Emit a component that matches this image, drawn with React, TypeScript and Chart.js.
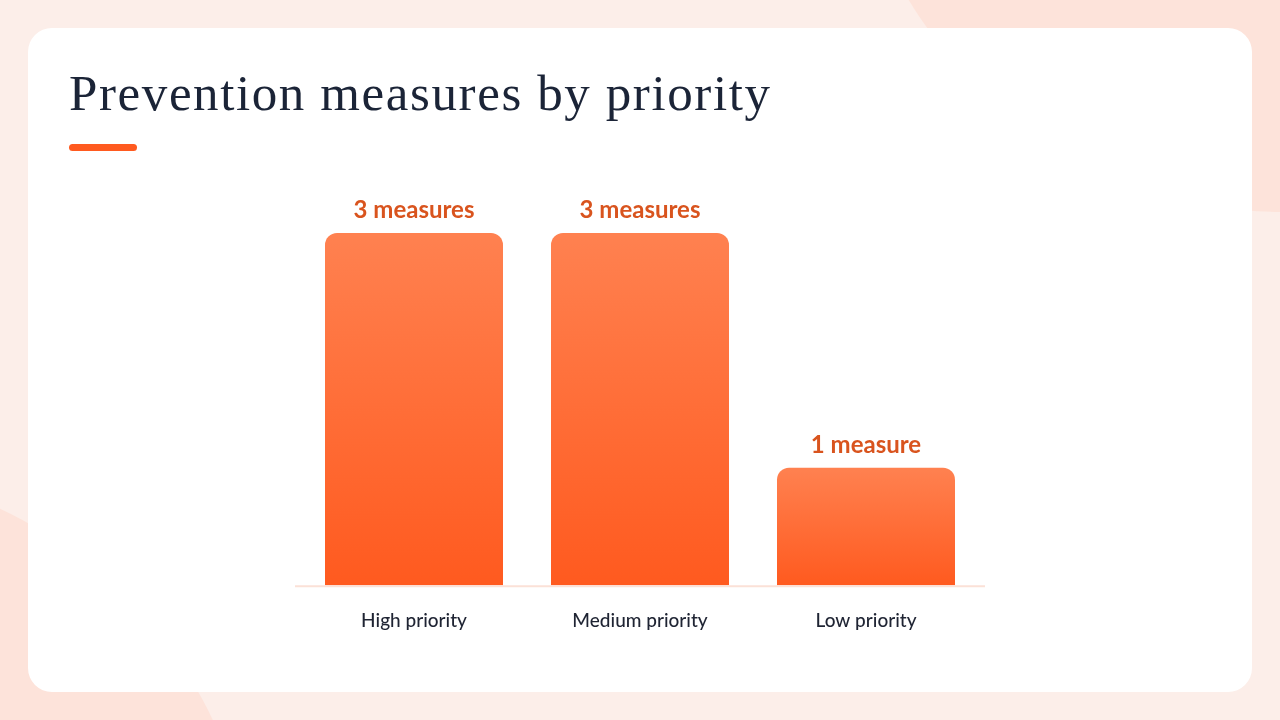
import { useEffect, useRef } from "react";
import Chart from "chart.js/auto";

const CATEGORIES = ["High priority", "Medium priority", "Low priority"];
const MEASURES = [3, 3, 1];
const Y_MAX = 3;

const LABEL_FONT = "Lato, 'Noto Sans', sans-serif";

// value labels above bars + a baseline a little wider than the plot
const valueLabels = {
  id: "valueLabels",
  beforeDatasetsDraw(chart: Chart) {
    const { ctx, chartArea } = chart;
    ctx.save();
    ctx.strokeStyle = "#FBE1D7";
    ctx.lineWidth = 2;
    ctx.beginPath();
    ctx.moveTo(chartArea.left - 6, chartArea.bottom + 1);
    ctx.lineTo(chartArea.right + 6, chartArea.bottom + 1);
    ctx.stroke();
    ctx.restore();
  },
  afterDatasetsDraw(chart: Chart) {
    const { ctx } = chart;
    const meta = chart.getDatasetMeta(0);
    ctx.save();
    ctx.font = `700 24px ${LABEL_FONT}`;
    ctx.fillStyle = "#D9541E";
    ctx.textAlign = "center";
    ctx.textBaseline = "alphabetic";
    meta.data.forEach((bar: any, i: number) => {
      const v = MEASURES[i];
      ctx.fillText(`${v} measure${v === 1 ? "" : "s"}`, bar.x, bar.y - 15);
    });
    ctx.restore();
  },
};

function PriorityChart() {
  const canvasRef = useRef<HTMLCanvasElement>(null);
  const chartRef = useRef<Chart | null>(null);

  useEffect(() => {
    if (!canvasRef.current) return;
    if (chartRef.current) chartRef.current.destroy();

    chartRef.current = new Chart(canvasRef.current, {
      type: "bar",
      data: {
        labels: CATEGORIES,
        datasets: [{
          data: MEASURES,
          backgroundColor: (c: any) => {
            const chart = c.chart;
            const y = chart.scales?.y;
            if (!chart.chartArea || !y || c.dataIndex == null) return "#FF6A32";
            const top = y.getPixelForValue(MEASURES[c.dataIndex]);
            const bottom = y.getPixelForValue(0);
            if (!isFinite(top) || !isFinite(bottom)) return "#FF6A32";
            const g = chart.ctx.createLinearGradient(0, top, 0, bottom);
            g.addColorStop(0, "#FF8150");
            g.addColorStop(1, "#FF5A1F");
            return g;
          },
          borderWidth: 0,
          borderRadius: { topLeft: 12, topRight: 12, bottomLeft: 0, bottomRight: 0 },
          borderSkipped: "start",
          categoryPercentage: 1,
          barPercentage: 178 / 226,
        }],
      },
      options: {
        animation: false,
        responsive: true,
        maintainAspectRatio: false,
        layout: { padding: { top: 53, bottom: 0, left: 12, right: 12 } },
        plugins: {
          legend: { display: false },
          tooltip: { enabled: false },
        },
        scales: {
          y: { display: false, min: 0, max: Y_MAX },
          x: {
            grid: { display: false },
            border: { display: false },
            ticks: {
              color: "#1F2433",
              font: { family: LABEL_FONT, size: 19, weight: 500 },
              padding: 16,
            },
          },
        },
      },
      plugins: [valueLabels],
    });

    return () => { chartRef.current?.destroy(); };
  }, []);

  return <canvas ref={canvasRef} />;
}

export default function App() {
  useEffect(() => {
    document.body.style.margin = "0";
  }, []);

  return (
    <div style={{ position: "relative", width: 1280, height: 720, overflow: "hidden", background: "#FCEEE9" }}>
      {/* background blobs */}
      <div style={{ position: "absolute", left: 845, top: -668, width: 880, height: 880, borderRadius: "50%", background: "#FDE3DA" }} />
      <div style={{ position: "absolute", left: -625, top: 468, width: 880, height: 880, borderRadius: "50%", background: "#FDE3DA" }} />

      {/* card */}
      <div style={{ position: "absolute", left: 28, top: 28, width: 1224, height: 664, background: "#FFFFFF", borderRadius: 24 }} />

      <div style={{
        position: "absolute", left: 69, top: 61, fontFamily: "'Liberation Serif', 'DejaVu Serif', serif",
        fontSize: 51, lineHeight: "64px", letterSpacing: 1.6, color: "#1B2437", whiteSpace: "nowrap",
      }}>
        Prevention measures by priority
      </div>
      <div style={{ position: "absolute", left: 69, top: 144, width: 68, height: 7, borderRadius: 4, background: "#FF5A1F" }} />

      <div style={{ position: "absolute", left: 289, top: 180, width: 702, height: 468 }}>
        <PriorityChart />
      </div>
    </div>
  );
}
